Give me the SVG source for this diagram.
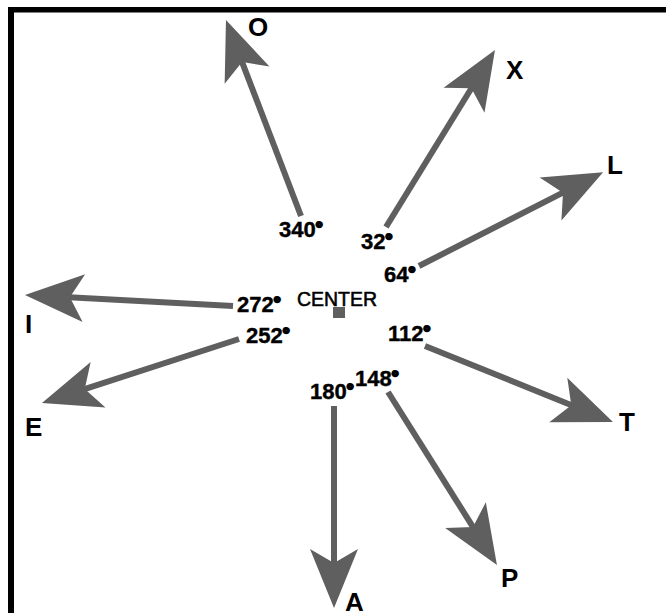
<svg xmlns="http://www.w3.org/2000/svg" width="666" height="613" viewBox="0 0 666 613">
<style>
.frame{fill:#000}
.shaft{stroke:#5f5f5f;stroke-width:6;fill:none;marker-end:url(#head)}
.deg{font-family:"Liberation Sans",Arial,sans-serif;font-weight:bold;font-size:22px;fill:#000;stroke:#000;stroke-width:0.4}
.deg tspan{font-size:17px;stroke:#000;stroke-width:2.2;baseline-shift:3px}
.lbl{font-family:"Liberation Sans",Arial,sans-serif;font-weight:bold;font-size:26px;fill:#000}
.ctr{font-family:"Liberation Sans",Arial,sans-serif;font-size:21px;fill:#000;stroke:#000;stroke-width:0.6}
</style>
<defs>
<marker id="head" markerUnits="userSpaceOnUse" viewBox="-20 -30 70 60" refX="0" refY="0" markerWidth="70" markerHeight="60" orient="auto" overflow="visible">
<path d="M44,0 L-15,-24 L-1,0 L-15,24 Z" fill="#5f5f5f"/>
</marker>
</defs>
<rect width="666" height="613" fill="#fff"/>
<g id="frame">
<rect class="frame" x="8" y="7" width="658" height="5.5"/>
<rect class="frame" x="8" y="7" width="6" height="606"/>
</g>
<g id="connectors">
<line class="shaft" x1="301" y1="216" x2="241.7" y2="61.1"/>
<line class="shaft" x1="386" y1="227" x2="471.9" y2="87.5"/>
<line class="shaft" x1="419" y1="266" x2="563.9" y2="192.2"/>
<line class="shaft" x1="233" y1="306" x2="68.9" y2="297.3"/>
<line class="shaft" x1="239" y1="339" x2="83.8" y2="389.4"/>
<line class="shaft" x1="425" y1="346" x2="572.2" y2="405.5"/>
<line class="shaft" x1="388" y1="392" x2="473.5" y2="527.8"/>
<line class="shaft" x1="334" y1="406" x2="334" y2="564"/>
</g>
<g id="center">
<rect x="333" y="307" width="12" height="11" fill="#5f5f5f"/>
<text class="ctr" x="297" y="306" textLength="80" lengthAdjust="spacingAndGlyphs">CENTER</text>
</g>
<g id="d340"><text class="deg" x="279" y="237">340<tspan>°</tspan></text></g>
<g id="d32"><text class="deg" x="361" y="249">32<tspan>°</tspan></text></g>
<g id="d64"><text class="deg" x="384" y="282">64<tspan>°</tspan></text></g>
<g id="d272"><text class="deg" x="237" y="312">272<tspan>°</tspan></text></g>
<g id="d252"><text class="deg" x="246" y="343">252<tspan>°</tspan></text></g>
<g id="d112"><text class="deg" x="388" y="341">112<tspan>°</tspan></text></g>
<g id="d148"><text class="deg" x="355" y="386">148<tspan>°</tspan></text></g>
<g id="d180"><text class="deg" x="310" y="399">180<tspan>°</tspan></text></g>
<g id="nO"><text class="lbl" x="248" y="36">O</text></g>
<g id="nX"><text class="lbl" x="506" y="79">X</text></g>
<g id="nL"><text class="lbl" x="607" y="174">L</text></g>
<g id="nI"><text class="lbl" x="25" y="333">I</text></g>
<g id="nE"><text class="lbl" x="25" y="436">E</text></g>
<g id="nT"><text class="lbl" x="619" y="431">T</text></g>
<g id="nP"><text class="lbl" x="501" y="587">P</text></g>
<g id="nA"><text class="lbl" x="345" y="611">A</text></g>
</svg>
